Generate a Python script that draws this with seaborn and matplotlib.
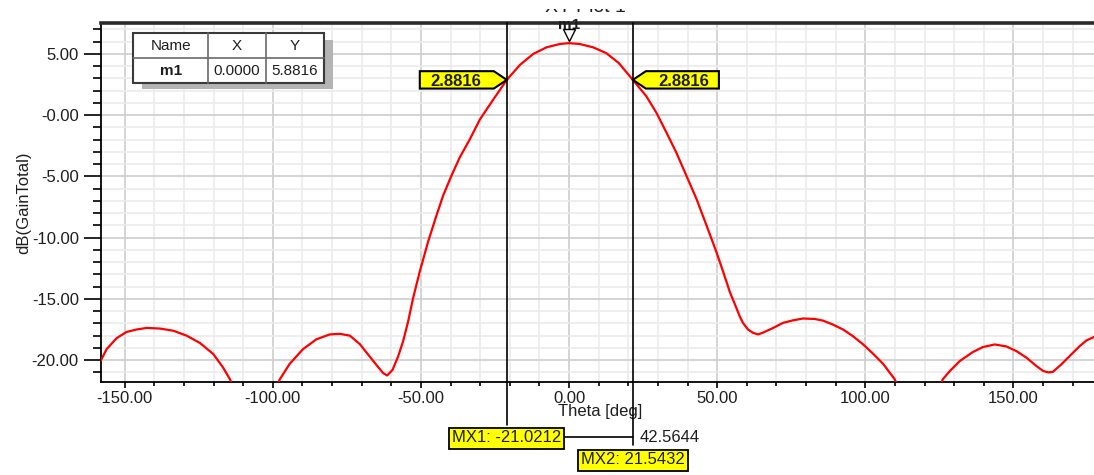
import matplotlib
matplotlib.use("Agg")
import matplotlib.pyplot as plt
import matplotlib.transforms as mtransforms
from matplotlib.patches import Polygon, Rectangle
from matplotlib.lines import Line2D
from matplotlib.ticker import MultipleLocator
import pandas as pd
import seaborn as sns

# Far-field cut: total gain (dB) versus theta (deg)
theta_deg = [
    -160, -158.4, -156.1, -152.7, -149.4, -146.0, -142.6, -138.1, -133.6, -129.1,
    -124.6, -120.1, -116.8, -114.5, -112, -109, -106, -103, -100, -97.6,
    -94.3, -89.8, -85.3, -80.8, -77.4, -74.0, -70.6, -67.3, -65.0, -62.8,
    -61.4, -59.6, -57.7, -56.0, -54.3, -52.65, -50.4, -47.6, -44.75, -42.5,
    -39.7, -36.9, -33.5, -30.1, -25.6, -21.0212, -16.6, -12.1, -7.6, -3.1,
    0.0, 3.6, 8.1, 12.6, 16.8, 21.5432, 26.1, 29.5, 32.9, 36.2,
    39.6, 43.0, 46.4, 49.7, 52.0, 54.2, 56.5, 57.6, 58.7, 60.4,
    62.1, 63.8, 65.5, 68.9, 72.2, 75.6, 79.0, 82.9, 85.7, 89.1,
    92.5, 95.8, 99.2, 102.6, 106.0, 109.9, 112.5, 115, 118, 121,
    123.5, 126.2, 128.5, 131.9, 136.3, 139.7, 143.7, 147.6, 151.0, 154.4,
    157.7, 160.0, 161.7, 163.3, 166.2, 169.0, 172.4, 174.6, 177.1, 178.5,
]
gain_db = [
    -21.1, -20.2, -19.1, -18.2, -17.7, -17.5, -17.37, -17.42, -17.6, -18.0,
    -18.6, -19.5, -20.6, -21.55, -23.0, -25.5, -28.0, -25.0, -22.8, -21.55,
    -20.3, -19.1, -18.3, -17.9, -17.85, -18.0, -18.7, -19.7, -20.4, -21.05,
    -21.25, -20.8, -19.7, -18.44, -16.82, -14.94, -12.77, -10.34, -8.18, -6.56,
    -4.94, -3.45, -1.97, -0.35, 1.27, 2.8816, 4.1, 5.0, 5.54, 5.81,
    5.8816, 5.81, 5.54, 5.06, 4.25, 2.8816, 1.54, 0.19, -1.43, -3.05,
    -4.94, -6.83, -9.0, -11.15, -12.77, -14.39, -15.75, -16.42, -16.96, -17.5,
    -17.77, -17.9, -17.75, -17.37, -16.96, -16.75, -16.6, -16.64, -16.77, -17.1,
    -17.5, -18.04, -18.7, -19.47, -20.3, -21.55, -23.0, -25.0, -27.5, -25.0,
    -23.0, -21.55, -20.9, -20.07, -19.34, -18.93, -18.72, -18.88, -19.26, -19.8,
    -20.47, -20.88, -21.0, -20.96, -20.34, -19.66, -18.85, -18.4, -18.12, -17.95,
]

# Marker m1 and the two -3 dB delta markers
m1_theta = 0.0
m1_gain = 5.8816
level_drop = 3.0
mx1_theta = -21.0212
mx2_theta = 21.5432

x_ticks = [-150, -100, -50, 0, 50, 100, 150]
x_tick_labels = ["-150.00", "-100.00", "-50.00", "0.00", "50.00", "100.00", "150.00"]
y_ticks = [-20, -15, -10, -5, 0, 5]
y_tick_labels = ["-20.00", "-15.00", "-10.00", "-5.00", "-0.00", "5.00"]

table_header = ["Name", "X", "Y"]

W, H = 1094, 475
sns.set_style("white")
plt.rcParams["font.family"] = ["Liberation Sans", "DejaVu Sans"]
TXT = "#1e1e1e"

fig = plt.figure(figsize=(W / 100, H / 100), dpi=100)
AX_L, AX_T, AX_B = 101, 23.3, 381.7
ax = fig.add_axes([AX_L / W, (H - AX_B) / H, (W - AX_L) / W, (AX_B - AX_T) / H])

df = pd.DataFrame({"Theta": theta_deg, "Gain": gain_db})
sns.lineplot(data=df, x="Theta", y="Gain", ax=ax, color="#ff0000", lw=1.6,
             estimator=None, sort=False, zorder=3)

ax.set_xlim(-158.0, 177.2)
ax.set_ylim(-21.76, 7.5)

# ticks, grid, spines
ax.set_xticks(x_ticks, x_tick_labels)
ax.set_yticks(y_ticks, y_tick_labels)
ax.xaxis.set_minor_locator(MultipleLocator(10))
ax.yaxis.set_minor_locator(MultipleLocator(1))
ax.tick_params(axis="y", which="major", left=True, length=12, width=1.2,
               color="black", labelsize=12, labelcolor=TXT, pad=4)
ax.tick_params(axis="y", which="minor", left=True, length=6, width=1.2, color="black")
ax.tick_params(axis="x", which="major", bottom=True, length=4.5, width=1.2,
               color="black", labelsize=12, labelcolor=TXT, pad=2)
ax.tick_params(axis="x", which="minor", bottom=True, length=3, width=1.2, color="black")

ax.grid(True, which="major", color="#cdcdcd", lw=1.2)
ax.grid(True, which="minor", color="#ebebeb", lw=1.2)
ax.set_axisbelow(True)

ax.spines["right"].set_visible(False)
ax.spines["top"].set_color("#2a2a2a")
ax.spines["top"].set_linewidth(2.6)
for s in ("left", "bottom"):
    ax.spines[s].set_color("black")
    ax.spines[s].set_linewidth(1.3)

ax.set_xlabel("Theta [deg]", fontsize=12, color=TXT)
ax.set_ylabel("dB(GainTotal)", fontsize=12, color=TXT)
ax.xaxis.set_label_coords(0.5025, -0.061)
ax.yaxis.set_label_coords(-0.0705, 0.5)

AX_HPX = AX_B - AX_T


def axfrac(py):
    return (AX_B - py) / AX_HPX


blend = mtransforms.blended_transform_factory(ax.transData, ax.transAxes)

# delta-marker lines
ax.plot([mx1_theta, mx1_theta], [axfrac(425), 1], color="black", lw=1.2,
        transform=blend, clip_on=False, zorder=4)
ax.plot([mx2_theta, mx2_theta], [axfrac(445), 1], color="black", lw=1.2,
        transform=blend, clip_on=False, zorder=4)
ax.plot([mx1_theta, mx2_theta], [axfrac(437.3), axfrac(437.3)], color="black",
        lw=1.2, transform=blend, clip_on=False, zorder=4)

box = dict(boxstyle="square,pad=0.18", fc="#ffff00", ec="black", lw=1.3)
ax.text(mx1_theta, axfrac(438), f"MX1: {mx1_theta:.4f}", transform=blend,
        ha="center", va="center", fontsize=12, color=TXT, bbox=box,
        clip_on=False, zorder=6)
ax.text(mx2_theta, axfrac(460), f"MX2: {mx2_theta:.4f}", transform=blend,
        ha="center", va="center", fontsize=12, color=TXT, bbox=box,
        clip_on=False, zorder=6)
ax.annotate(f"{mx2_theta - mx1_theta:.4f}", xy=(mx2_theta, axfrac(437.3)),
            xycoords=blend, xytext=(7, 0), textcoords="offset pixels",
            ha="left", va="center", fontsize=12, color=TXT, annotation_clip=False)

# -3 dB level flags on the curve
level = m1_gain - level_drop


def at_point(x, y):
    return mtransforms.Affine2D() + mtransforms.ScaledTranslation(x, y, ax.transData)


flag_left = [(0, 0), (-13, 8.7), (-87, 8.7), (-87, -8.7), (-13, -8.7)]
flag_right = [(0, 0), (13, 8.7), (86, 8.7), (86, -8.7), (13, -8.7)]
for xm, verts, dx in ((mx1_theta, flag_left, -51), (mx2_theta, flag_right, 51)):
    flag = Polygon(verts, closed=True, transform=at_point(xm, level),
                   fc="#ffff00", ec="black", lw=1.5, zorder=7, clip_on=False)
    ax.add_artist(flag)
    ax.annotate(f"{level:.4f}", xy=(xm, level), xytext=(dx, 0),
                textcoords="offset pixels", ha="center", va="center_baseline",
                fontsize=12, fontweight="bold", color=TXT, zorder=8,
                annotation_clip=False)

# m1 marker above the peak
ax.plot([m1_theta], [m1_gain], marker="v", ms=8.5, mfc="white", mec="black",
        mew=1.0, ls="none", clip_on=False, zorder=6,
        transform=ax.transData + mtransforms.ScaledTranslation(0, 8 / 100, fig.dpi_scale_trans))
ax.annotate("m1", xy=(m1_theta, m1_gain), xytext=(0, 20), textcoords="offset pixels",
            ha="center", va="center_baseline", fontsize=11, fontweight="bold",
            color=TXT, annotation_clip=False)

# marker table (pixel layout, y measured from the top)
ident = mtransforms.IdentityTransform()
TL, TR, TT, TB, TM = 133.3, 324, 32.7, 83.3, 58.3
COLS = [133.3, 208.3, 266, 324]
fig.add_artist(Rectangle((142, H - 89.3), 332.7 - 142, 89.3 - 40, transform=ident,
                         fc="#b4b4b4", ec="none", zorder=9))
fig.add_artist(Rectangle((TL, H - TB), TR - TL, TB - TT, transform=ident,
                         fc="white", ec="#3a3a3a", lw=1.5, zorder=10))
for cx in COLS[1:-1]:
    fig.add_artist(Line2D([cx, cx], [H - TT, H - TB], transform=ident,
                          color="#6a6a6a", lw=1.2, zorder=11))
fig.add_artist(Line2D([TL, TR], [H - TM, H - TM], transform=ident,
                      color="#6a6a6a", lw=1.2, zorder=11))
row_vals = ["m1", f"{m1_theta:.4f}", f"{m1_gain:.4f}"]
for i in range(3):
    cxm = (COLS[i] + COLS[i + 1]) / 2
    fig.text(cxm, H - (TT + TM) / 2, table_header[i], transform=ident, ha="center",
             va="center", fontsize=11, color=TXT, zorder=12)
    fig.text(cxm, H - (TM + TB) / 2, row_vals[i], transform=ident, ha="center",
             va="center", fontsize=11, color=TXT, zorder=12,
             fontweight="bold" if i == 0 else "normal")

# plot title, mostly hidden above the top margin
fig.text(585, H - 11.5, "XY Plot 1", transform=ident, ha="center",
         va="baseline", fontsize=14, color=TXT, zorder=2)
fig.add_artist(Rectangle((0, H - 8.5), W, 9, transform=ident,
                         fc="white", ec="none", zorder=20))

fig.savefig("out.png", dpi=100)
